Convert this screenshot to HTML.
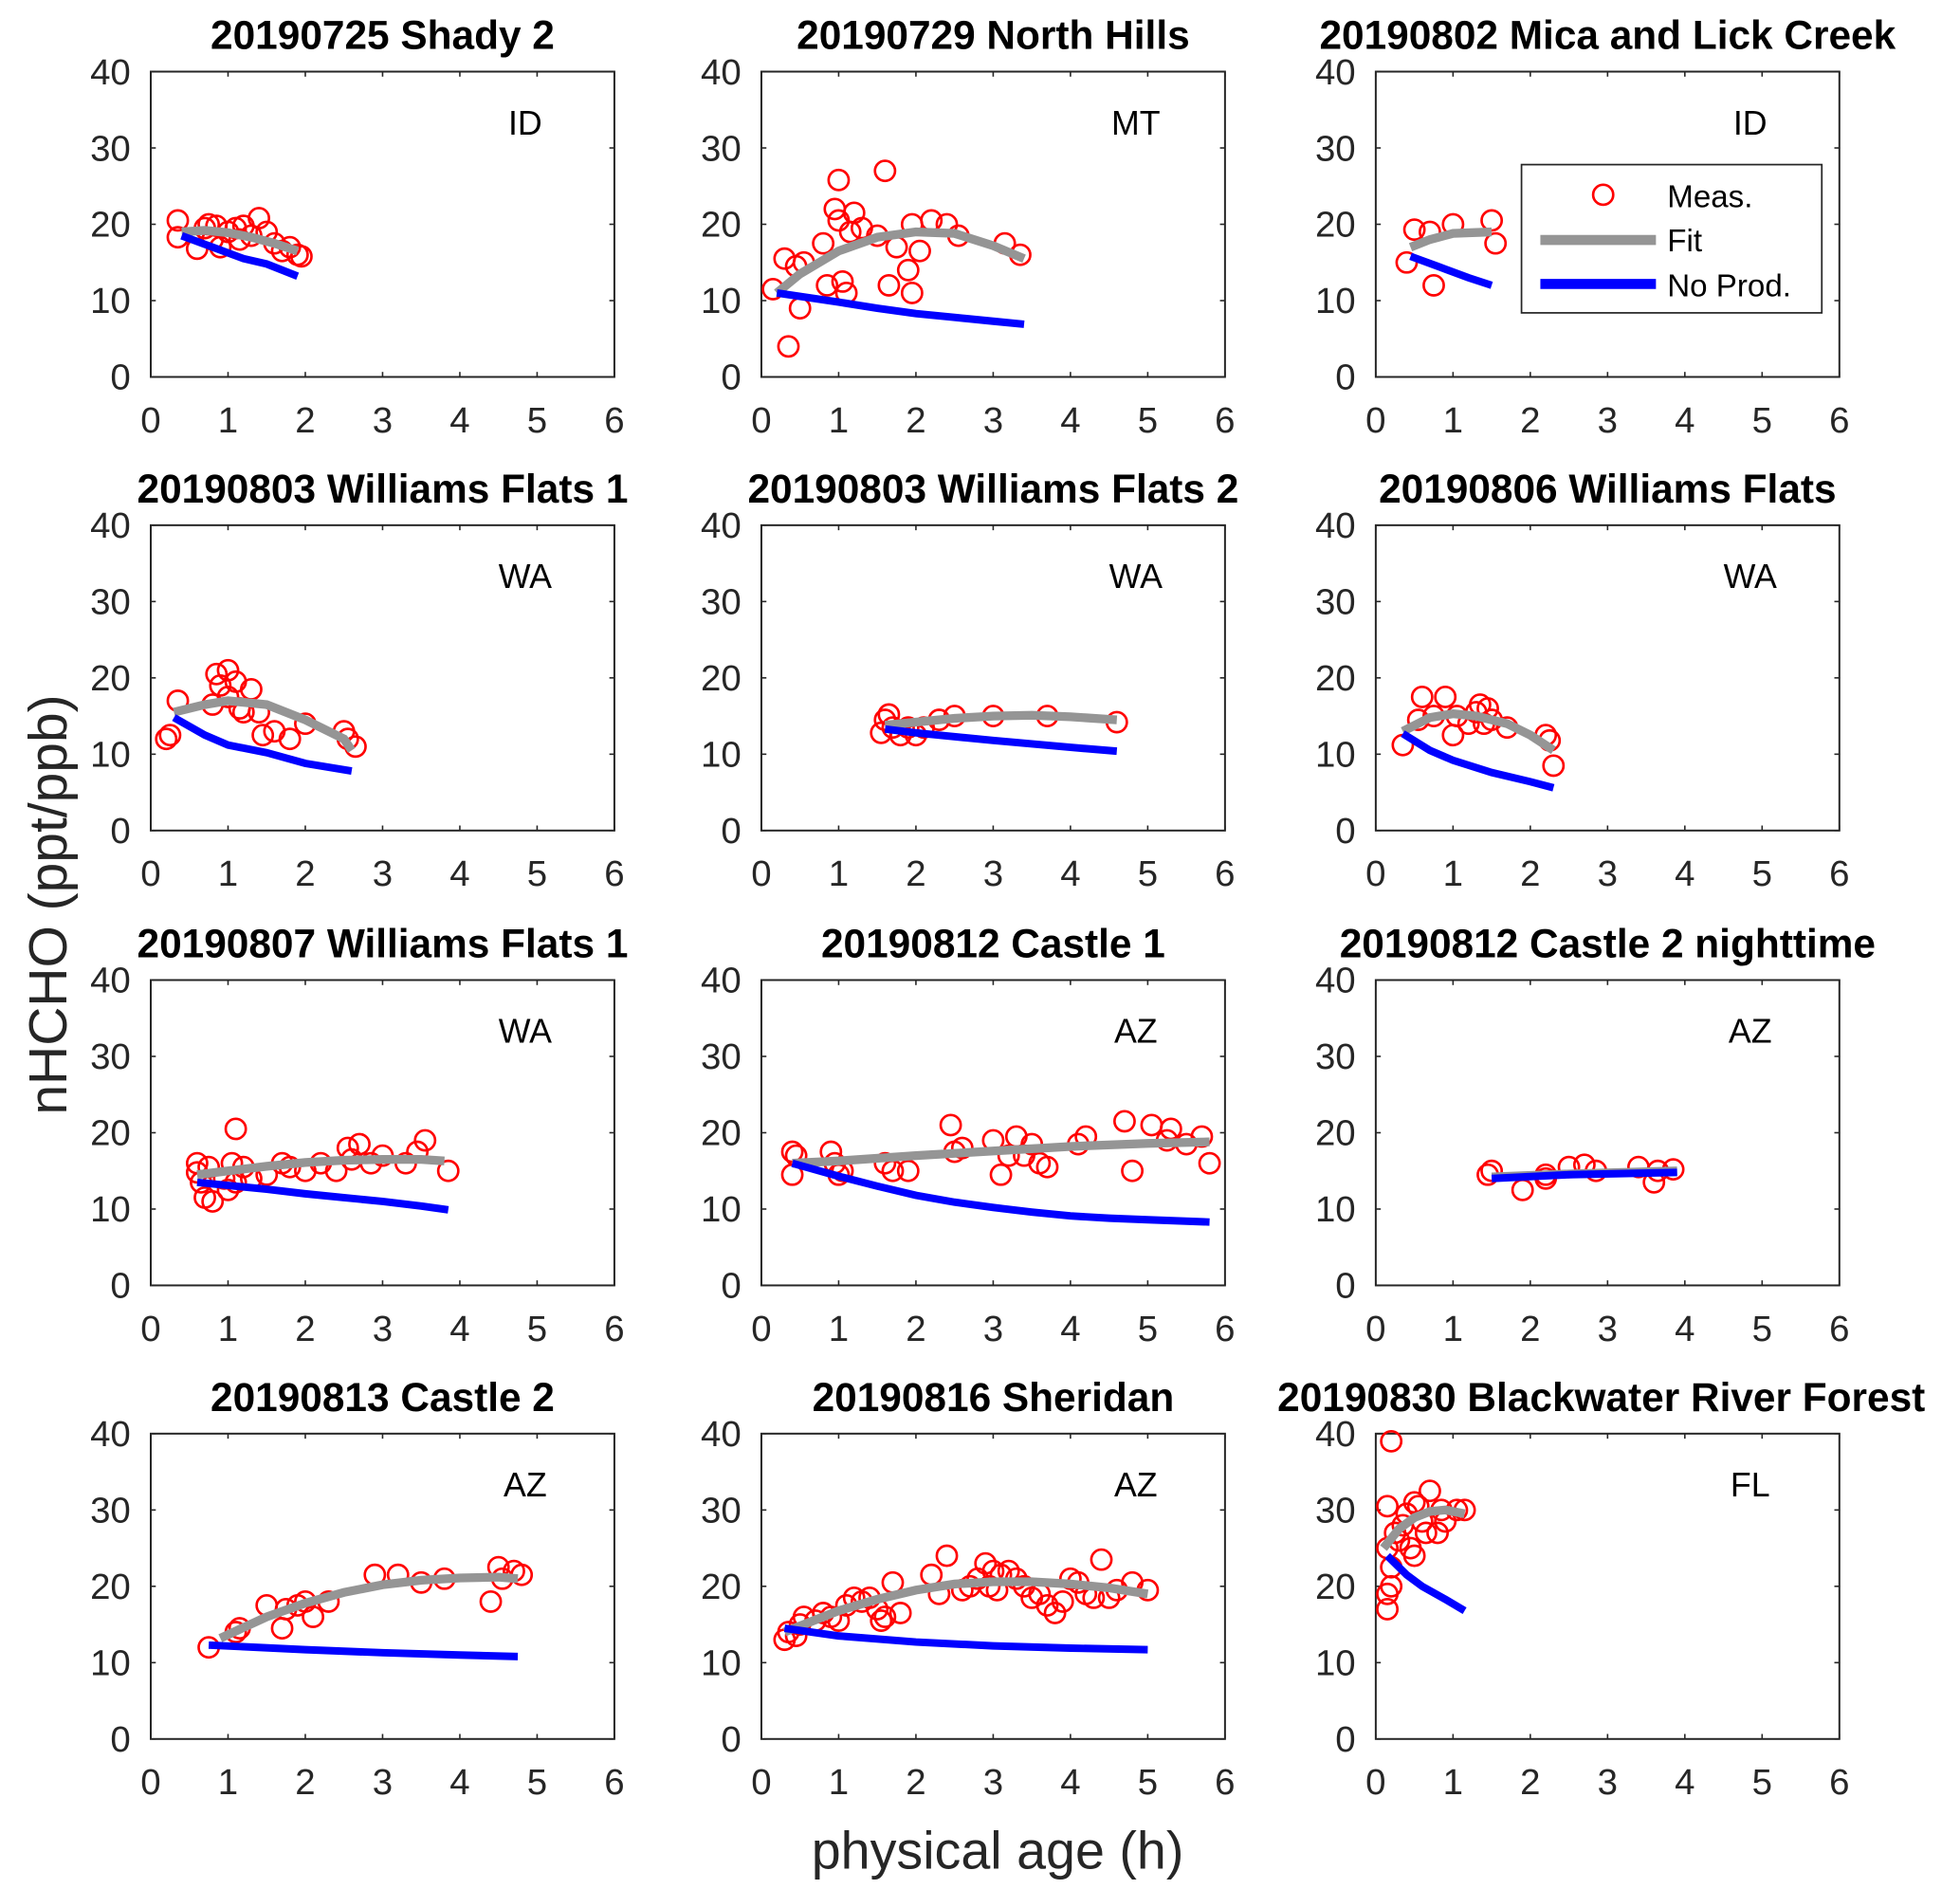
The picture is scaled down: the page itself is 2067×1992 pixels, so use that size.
<!DOCTYPE html>
<html><head><meta charset="utf-8"><style>
html,body{margin:0;padding:0;background:#fff;}
svg{display:block;}
text{font-family:"Liberation Sans",Arial,sans-serif;}
</style></head><body>
<svg id="fig" width="2067" height="1992" viewBox="0 0 1560 1503.4" preserveAspectRatio="none" xmlns="http://www.w3.org/2000/svg">
<text x="53" y="720" font-size="43" fill="#262626" text-anchor="middle" transform="rotate(-90 53 720)">nHCHO (ppt/ppb)</text>
<text x="794" y="1487" font-size="42" fill="#262626" text-anchor="middle">physical age (h)</text>
</svg>
<script>
const titles=["20190725 Shady 2","20190729 North Hills","20190802 Mica and Lick Creek","20190803 Williams Flats 1","20190803 Williams Flats 2","20190806 Williams Flats","20190807 Williams Flats 1","20190812 Castle 1","20190812 Castle 2 nighttime","20190813 Castle 2","20190816 Sheridan","20190830 Blackwater River Forest"];
const states=["ID","MT","ID","WA","WA","WA","WA","AZ","AZ","AZ","AZ","FL"];
const xTicks=[0,1,2,3,4,5,6];
const yTicks=[0,10,20,30,40];
const measX=[
[0.35,0.35,0.6,0.7,0.75,0.8,0.85,0.9,1.0,1.1,1.15,1.2,1.3,1.4,1.5,1.6,1.7,1.8,1.9,1.95],
[0.15,0.3,0.35,0.45,0.5,0.55,0.8,0.85,0.95,1.0,1.0,1.05,1.1,1.15,1.2,1.3,1.5,1.6,1.65,1.75,1.9,1.95,1.95,2.05,2.2,2.4,2.55,3.15,3.35],
[0.4,0.5,0.7,0.75,1.0,1.5,1.55],
[0.2,0.25,0.35,0.8,0.85,0.9,1.0,1.0,1.1,1.15,1.2,1.3,1.4,1.45,1.6,1.8,2.0,2.5,2.55,2.65],
[1.55,1.6,1.65,1.7,1.8,1.9,2.0,2.1,2.3,2.5,3.0,3.7,4.6],
[0.35,0.55,0.6,0.75,0.9,1.0,1.05,1.2,1.3,1.35,1.4,1.45,1.5,1.7,2.2,2.25,2.3],
[0.6,0.6,0.65,0.7,0.75,0.8,0.95,1.0,1.05,1.1,1.1,1.2,1.3,1.5,1.7,1.8,2.0,2.2,2.4,2.55,2.6,2.7,2.85,3.0,3.3,3.45,3.55,3.85],
[0.4,0.4,0.45,0.9,0.95,1.0,1.05,1.6,1.7,1.9,2.45,2.5,2.6,3.0,3.1,3.2,3.3,3.4,3.5,3.6,3.7,4.1,4.2,4.7,4.8,5.05,5.25,5.3,5.5,5.7,5.8],
[1.45,1.5,1.9,2.2,2.2,2.5,2.7,2.85,3.4,3.6,3.65,3.85],
[0.75,1.1,1.15,1.5,1.7,1.75,1.9,2.0,2.1,2.3,2.9,3.2,3.5,3.8,4.4,4.5,4.55,4.7,4.8],
[0.3,0.35,0.45,0.5,0.55,0.7,0.8,0.9,1.0,1.1,1.2,1.3,1.4,1.5,1.55,1.6,1.7,1.8,2.2,2.3,2.4,2.6,2.7,2.8,2.9,2.95,3.0,3.05,3.1,3.2,3.3,3.4,3.5,3.6,3.7,3.8,3.9,4.0,4.1,4.2,4.3,4.4,4.5,4.6,4.8,5.0],
[0.15,0.15,0.2,0.2,0.25,0.15,0.15,0.2,0.3,0.35,0.4,0.45,0.5,0.5,0.55,0.6,0.65,0.7,0.8,0.85,0.9,1.05,1.15]];
const measY=[
[20.5,18.3,16.8,19.5,20,18,19.8,17,19,19.5,18,19.8,18.5,20.8,19,17.5,16.5,17,16,15.8],
[11.5,15.5,4,14.5,9,15,17.5,12,22,20.5,25.8,12.5,11,19,21.5,19.5,18.5,27,12,17,14,20,11,16.5,20.5,20,18.5,17.5,16],
[15,19.3,19,12,20,20.5,17.5],
[12,12.5,17,16.5,20.5,19,21,17.5,19.5,16,15.5,18.5,15.5,12.5,13,12,14,13,12,11],
[12.8,14.5,15.2,13.5,12.5,13.5,12.5,13.5,14.5,15,15,15,14.2],
[11.2,14.5,17.5,15,17.5,12.5,15,14,15.5,16.5,14,16,14.5,13.5,12.5,11.8,8.5],
[16,14.8,13.5,11.5,15.5,11,14,12.5,16,20.5,13.5,15.5,14,14.5,16,15.5,15,16,15,18,16.5,18.5,16,17,16,17.5,19,15],
[17.5,14.5,17,17.5,16,14.5,15,16,15,15,21,17.5,18,19,14.5,17,19.5,17,18.5,16,15.5,18.5,19.5,21.5,15,21,19,20.5,18.5,19.5,16],
[14.5,15,12.5,14.5,14,15.5,15.8,15,15.5,13.5,15,15.2],
[12,14,14.5,17.5,14.5,17,17.5,18,16,18,21.5,21.5,20.5,21,18,22.5,21,22,21.5],
[13,14,13.5,15,16,15.5,16.5,16,15.5,17.5,18.5,18,18.5,17,15.5,16,20.5,16.5,21.5,19,24,19.5,20,21,23,20,22,19.5,21.5,22,21,20,18.5,19,17.5,16.5,18,21,20.5,19,18.5,23.5,18.5,19.5,20.5,19.5],
[17,19,20,22.5,27,25,30.5,39,26,28,29.5,25,31,24,30.5,28.5,27,32.5,27,30,28.5,30,30]];
const fitX=[[0.4,0.7,1.0,1.3,1.6,1.9],[0.2,0.5,1,1.5,2,2.5,3,3.4],[0.45,0.7,1,1.5],[0.3,0.7,1,1.5,2,2.5,2.6],[1.6,2,2.5,3,3.5,4,4.6],[0.35,0.7,1,1.3,1.7,2,2.3],[0.6,1,1.5,2,2.5,3,3.5,3.8],[0.4,1,2,3,4,5,5.8],[1.5,2.5,3.9],[0.9,1.5,2,2.5,3,3.5,4,4.5,4.75],[0.3,1,1.5,2,2.5,3,3.5,4,4.5,5],[0.1,0.3,0.5,0.7,0.9,1.15]];
const fitY=[[19,19.2,18.9,18.3,17.5,16.5],[11,13.5,16.5,18.3,19,18.8,17.2,15.5],[17,18,18.8,19],[15.5,16.5,17,16.5,14.5,12,10.5],[13.8,14.2,14.7,15,15.1,14.9,14.5],[13,14.8,15.3,15,14,12.5,10.5],[14.5,15,15.6,16.1,16.4,16.5,16.5,16.3],[16,16.3,17,17.6,18.2,18.6,18.8],[14.2,14.6,15],[13.2,16,17.8,19.2,20.2,20.8,21.1,21.2,21],[14,16.8,18.3,19.5,20.3,20.6,20.6,20.3,19.8,19],[25,27.5,29,29.8,30,29.5]];
const npX=[[0.4,0.8,1.2,1.5,1.9],[0.2,1,1.5,2,2.5,3,3.4],[0.45,0.8,1.2,1.5],[0.3,0.7,1,1.5,2,2.6],[1.6,2,3,4,4.6],[0.35,0.7,1,1.5,2,2.3],[0.6,1,1.5,2,2.5,3,3.5,3.85],[0.4,1,1.5,2,2.5,3,3.5,4,4.5,5,5.8],[1.5,2.5,3.9],[0.75,2,3,4,4.75],[0.3,1,2,3,4,5],[0.15,0.4,0.6,0.9,1.15]];
const npY=[[18.5,17,15.5,14.8,13.2],[11,9.8,9,8.3,7.8,7.3,6.9],[15.8,14.5,13,12],[14.8,12.5,11.2,10.2,8.8,7.8],[13.3,12.8,11.8,10.9,10.4],[12.7,10.5,9.2,7.6,6.4,5.6],[13.5,13.1,12.6,12,11.5,11,10.4,9.9],[16,14.3,13,11.8,10.9,10.2,9.6,9.1,8.8,8.6,8.3],[14,14.5,14.8],[12.3,11.7,11.3,11,10.8],[14.5,13.5,12.7,12.2,11.9,11.7],[24,21.5,20,18.3,16.8]];

const NS="http://www.w3.org/2000/svg";
const svg=document.getElementById('fig');
const colL=[120,606,1095], W=369;
const rowT=[57,418,780,1141], H=243;
function mk(tag,attrs,parent){const e=document.createElementNS(NS,tag);for(const k in attrs)e.setAttribute(k,attrs[k]);parent.appendChild(e);return e;}
for(let p=0;p<12;p++){
  const L=colL[p%3], T=rowT[Math.floor(p/3)];
  const sx=v=>L+v/6*W, sy=v=>T+H-v/40*H;
  const g=mk('g',{},svg);
  
  
  const t=mk('text',{x:L+W/2+(p===11?-5:0),y:T-18,'font-size':32,'font-weight':'bold','text-anchor':'middle',fill:'#000'},g);
  t.textContent=titles[p];
  
  
  const ax=mk('rect',{x:L,y:T,width:W,height:H,fill:'none',stroke:'#262626','stroke-width':1.5},g);
  
  
  xTicks.forEach(v=>{
    mk('line',{x1:sx(v),x2:sx(v),y1:T+H,y2:T+H-4,stroke:'#262626','stroke-width':1.2},g);
    mk('line',{x1:sx(v),x2:sx(v),y1:T,y2:T+4,stroke:'#262626','stroke-width':1.2},g);
    const tl=mk('text',{x:sx(v),y:T+H+44,'font-size':29,'text-anchor':'middle',fill:'#262626'},g);
    tl.textContent=v;
    
    
  });
  yTicks.forEach(v=>{
    mk('line',{x1:L,x2:L+4,y1:sy(v),y2:sy(v),stroke:'#262626','stroke-width':1.2},g);
    mk('line',{x1:L+W,x2:L+W-4,y1:sy(v),y2:sy(v),stroke:'#262626','stroke-width':1.2},g);
    const tl=mk('text',{x:L-16,y:sy(v)+10,'font-size':29,'text-anchor':'end',fill:'#262626'},g);
    tl.textContent=v;
    
    
  });
  const st=mk('text',{x:L+298,y:T+50,'font-size':27,'text-anchor':'middle',fill:'#000'},g);
  st.textContent=states[p];
  
  
  measX[p].forEach((x,i)=>{
    const c=mk('circle',{cx:sx(x),cy:sy(measY[p][i]),r:8,fill:'none',stroke:'#ff0000','stroke-width':2},g);
    
    
  });
  const fp=mk('polyline',{points:fitX[p].map((x,i)=>sx(x)+','+sy(fitY[p][i])).join(' '),fill:'none',stroke:'#959595','stroke-width':7},g);
  
  
  const np=mk('polyline',{points:npX[p].map((x,i)=>sx(x)+','+sy(npY[p][i])).join(' '),fill:'none',stroke:'#0000ff','stroke-width':6},g);
  
  
}
const lg=mk('g',{},svg);


mk('rect',{x:1211,y:131,width:239,height:118,fill:'#fff',stroke:'#262626','stroke-width':1.3},lg);
const lc=mk('circle',{cx:1276,cy:155,r:8,fill:'none',stroke:'#ff0000','stroke-width':2},lg);


const l1=mk('line',{x1:1226,x2:1318,y1:191,y2:191,stroke:'#959595','stroke-width':8},lg);


const l2=mk('line',{x1:1226,x2:1318,y1:226,y2:226,stroke:'#0000ff','stroke-width':8},lg);


[["Meas.",165],["Fit",200],["No Prod.",236]].forEach(([s,y])=>{
  const t=mk('text',{x:1327,y:y,'font-size':25,fill:'#000'},lg);
  t.textContent=s;
  
  
});
</script>
</body></html>
